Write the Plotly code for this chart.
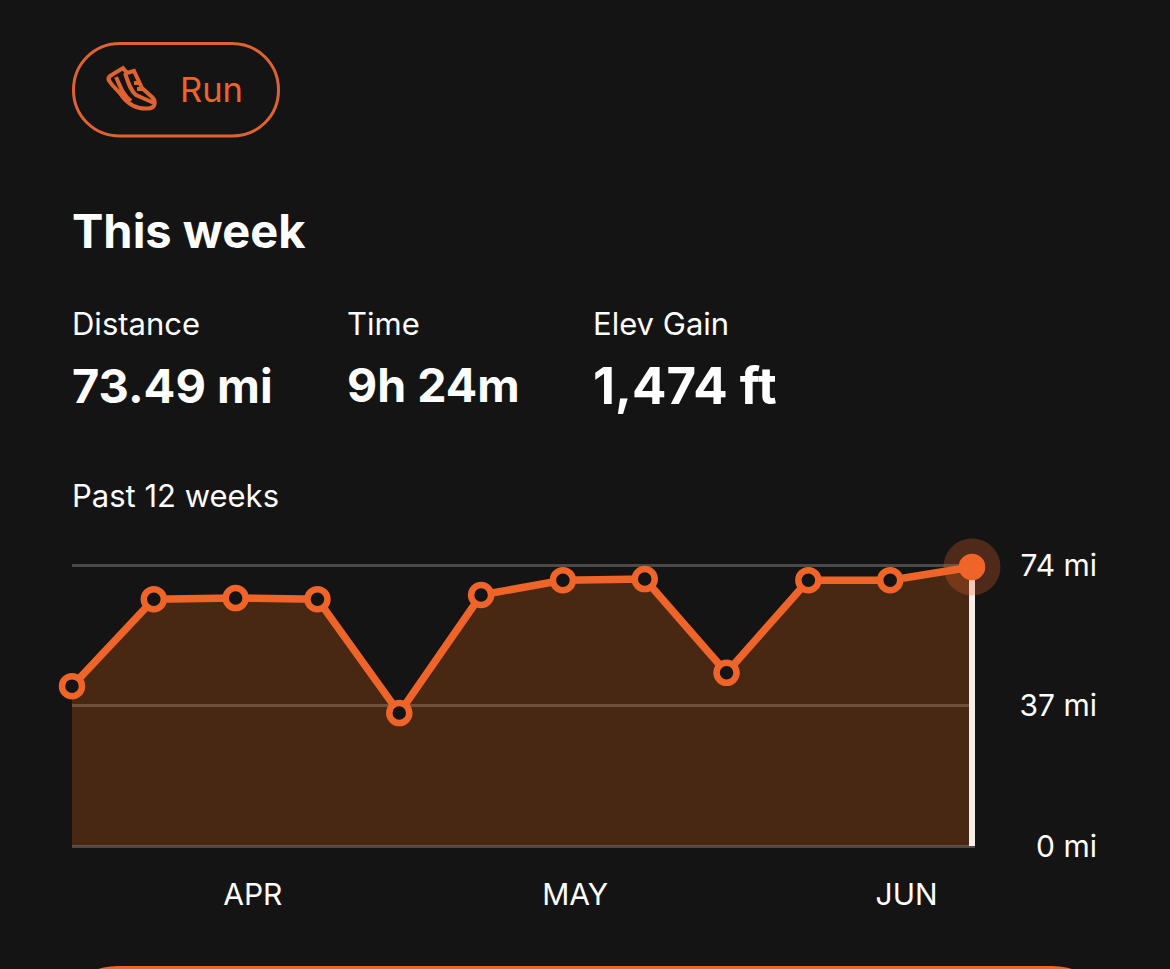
import plotly.graph_objects as go

# Weekly running distance, in miles
week_index = [0, 1, 2, 3, 4, 5, 6, 7, 8, 9, 10, 11]
miles = [42.1, 65.0, 65.3, 65.0, 35.0, 66.1, 70.0, 70.3, 45.6, 70.0, 70.0, 73.49]
month_positions = [2.21, 6.15, 10.2]
month_labels = ["APR", "MAY", "JUN"]
distance_ticks = [0, 37, 74]
distance_labels = ["0 mi", "37 mi", "74 mi"]

stat_labels = ["Distance", "Time", "Elev Gain"]
stat_values = ["73.49 mi", "9h 24m", "1,474 ft"]
stat_value_sizes = [47, 46.5, 51]

W, H = 1170, 969
BG = "#141414"
ORANGE = "#EF6429"
OUTLINE = "#DF6330"
FONT = "Inter"

# Page-pixel frame of the plot; the small extra room keeps the end gridlines
# and the post on the last week from being clipped.
PLOT_LEFT, PLOT_RIGHT = 72, 975
Y_BOTTOM, Y_TOP = 846, 565
Y_PAD_PX = 1.5
PX_PER_WEEK = (972 - 72) / 11
PX_PER_MILE = (Y_BOTTOM - Y_TOP) / 74


def px(x):
    return x / W


def py(y):
    return 1 - y / H


def path(cmds):
    """Build an SVG path in paper units from commands given in page pixels."""
    out = []
    for cmd in cmds:
        letter, *pts = cmd
        if not pts:
            out.append(letter)
            continue
        out.append(letter + " ".join(f"{px(a):.5f},{py(b):.5f}" for a, b in pts))
    return " ".join(out)


def text(x, y, s, size, bold=False, color="#FFFFFF"):
    return dict(
        x=px(x), y=py(y), xref="paper", yref="paper", text=f"<b>{s}</b>" if bold else s,
        showarrow=False, xanchor="left", yanchor="middle",
        font=dict(family=FONT, size=size, color=color),
    )


fig = go.Figure()

# Shaded area under the weekly line
fig.add_trace(go.Scatter(
    x=week_index, y=miles, mode="lines", line=dict(width=0),
    fill="tozeroy", fillcolor="rgba(241,105,15,0.235)", hoverinfo="skip", showlegend=False,
))
# Post under the current week
fig.add_trace(go.Scatter(
    x=[week_index[-1], week_index[-1]], y=[0, miles[-1]], mode="lines",
    line=dict(color="#F6EEE9", width=6), showlegend=False,
))
# Weekly line with hollow points
fig.add_trace(go.Scatter(
    x=week_index, y=miles, mode="lines+markers", showlegend=False, cliponaxis=False,
    line=dict(color=ORANGE, width=7.5),
    marker=dict(size=20, color=BG, line=dict(color=ORANGE, width=6.5)),
))
# Current week highlight
fig.add_trace(go.Scatter(
    x=[week_index[-1]], y=[miles[-1]], mode="markers", showlegend=False, cliponaxis=False,
    marker=dict(size=57, color="rgba(241,101,43,0.27)", line=dict(width=0)),
))
fig.add_trace(go.Scatter(
    x=[week_index[-1]], y=[miles[-1]], mode="markers", showlegend=False, cliponaxis=False,
    marker=dict(size=26, color=ORANGE, line=dict(width=0)),
))

annotations = [
    text(178, 90, "Run", 34.5, color=ORANGE),
    text(70, 231, "This week", 47, bold=True),
    text(70, 496, "Past 12 weeks", 31),
]
for x, label, value, vsize in zip([70, 345, 591], stat_labels, stat_values, stat_value_sizes):
    annotations.append(text(x, 323.5, label, 31))
    annotations.append(text(x, 385, value, vsize, bold=True))

shoe_cmds = [
    # Outer silhouette
    ("M", (110, 76)),
    ("L", (123, 68)),
    ("L", (127, 73)),
    ("L", (134, 71)),
    ("L", (142, 88)),
    ("L", (152, 97)),
    ("C", (157, 102), (155, 109), (147, 108.5)),
    ("C", (136, 109), (128, 104), (122, 96)),
    ("C", (118, 90), (113, 87), (110, 82)),
    ("C", (108, 80), (108, 78), (110, 76)),
    ("Z",),
    # Inner stripes
    ("M", (116, 77)),
    ("C", (120, 86), (123, 95), (131, 101)),
    ("M", (125, 73)),
    ("C", (128, 82), (130, 90), (136, 95)),
    ("L", (154, 103)),
    # Laces
    ("M", (134, 83)),
    ("L", (140, 83)),
    ("M", (137, 89)),
    ("L", (143, 89)),
]

shapes = [
    # Activity pill
    dict(type="path", xref="paper", yref="paper", line=dict(color=OUTLINE, width=3),
         path=path([
             ("M", (120, 43.5)), ("L", (232, 43.5)),
             ("C", (258, 43.5), (278.5, 64), (278.5, 90)),
             ("C", (278.5, 116), (258, 136), (232, 136)),
             ("L", (120, 136)),
             ("C", (94, 136), (73.5, 116), (73.5, 90)),
             ("C", (73.5, 64), (94, 43.5), (120, 43.5)),
             ("Z",),
         ])),
    # Shoe icon
    dict(type="path", xref="paper", yref="paper", line=dict(color=OUTLINE, width=4),
         path=path(shoe_cmds)),
    # Top edge of the button below the fold
    dict(type="path", xref="paper", yref="paper", line=dict(width=0), fillcolor=ORANGE,
         path=path([
             ("M", (98, 969)),
             ("C", (105, 966.5), (115, 966), (125, 966)),
             ("L", (1045, 966)),
             ("C", (1055, 966), (1065, 966.5), (1072, 969)),
             ("Z",),
         ])),
]

fig.update_layout(
    width=W, height=H, autosize=False, margin=dict(l=0, r=0, t=0, b=0, pad=0),
    paper_bgcolor=BG, plot_bgcolor=BG, showlegend=False, hovermode=False,
    annotations=annotations, shapes=shapes,
    xaxis=dict(
        domain=[px(PLOT_LEFT), px(PLOT_RIGHT)],
        range=[0, 11 + (PLOT_RIGHT - 972) / PX_PER_WEEK],
        automargin=False, showgrid=False, zeroline=False, showline=False,
        tickmode="array", tickvals=month_positions, ticktext=month_labels,
        ticks="", ticklabelstandoff=26, tickfont=dict(family=FONT, size=30, color="#FFFFFF"),
    ),
    yaxis=dict(
        domain=[py(Y_BOTTOM + Y_PAD_PX), py(Y_TOP - Y_PAD_PX)],
        range=[-Y_PAD_PX / PX_PER_MILE, 74 + Y_PAD_PX / PX_PER_MILE],
        automargin=False, anchor="free", position=px(1097), side="left",
        showgrid=True, gridcolor="#494947", gridwidth=3, zeroline=False, showline=False,
        tickmode="array", tickvals=distance_ticks, ticktext=distance_labels, ticks="",
        tickfont=dict(family=FONT, size=30, color="#FFFFFF"),
    ),
)

fig.write_html("out.html", config=dict(displayModeBar=False))
